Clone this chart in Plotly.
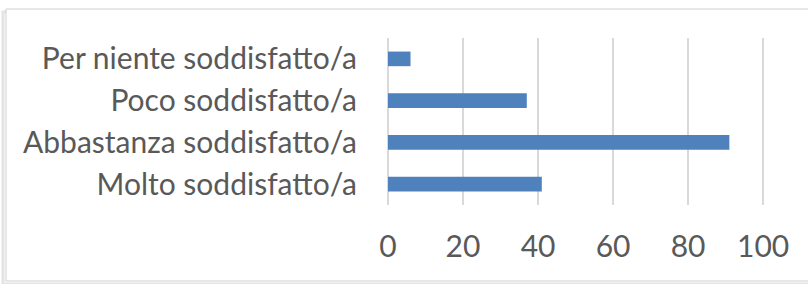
import plotly.graph_objects as go

categories = ["Molto soddisfatto/a", "Abbastanza soddisfatto/a", "Poco soddisfatto/a", "Per niente soddisfatto/a"]
values = [41, 91, 37, 6]
tick_vals = [0, 20, 40, 60, 80, 100]
tick_text = ["0", "20", "40", "60", "80", "100"]

W, H = 808, 284
L, R, T, B = 388, 43, 38, 79
pw, ph = W - L - R, H - T - B

fig = go.Figure(go.Bar(
    x=values, y=categories, orientation="h",
    marker=dict(color="#4F81BD", line=dict(width=0)),
))

def px_to_paper_x(px):
    return (px - L) / pw

def px_to_paper_y(py):
    return (H - B - py) / ph

# chart frame with slight shadow
fig.add_shape(type="rect", xref="paper", yref="paper",
              x0=px_to_paper_x(3), x1=px_to_paper_x(830),
              y0=px_to_paper_y(284), y1=px_to_paper_y(12),
              line=dict(color="#E4E4E4", width=3), fillcolor="rgba(0,0,0,0)", layer="below")
fig.add_shape(type="rect", xref="paper", yref="paper",
              x0=px_to_paper_x(6), x1=px_to_paper_x(830),
              y0=px_to_paper_y(281), y1=px_to_paper_y(9),
              line=dict(color="#D0D0D0", width=1), fillcolor="white", layer="below")

font_fam = "Lato, Noto Sans, sans-serif"
fs = 30
fig.update_layout(
    width=W, height=H,
    margin=dict(l=L, r=R, t=T, b=B),
    paper_bgcolor="white", plot_bgcolor="rgba(0,0,0,0)",
    bargap=0.65, showlegend=False,
    font=dict(family=font_fam, color="#595959", size=fs),
    xaxis=dict(range=[0, 100.5], tickvals=tick_vals, ticktext=tick_text,
               showgrid=True, gridcolor="#D9D9D9", gridwidth=1.8,
               zeroline=True, zerolinecolor="#D9D9D9", zerolinewidth=1.8,
               showline=False, ticks="", automargin=False,
               ticklabelstandoff=21, tickfont=dict(size=fs, color="#595959")),
    yaxis=dict(showgrid=False, zeroline=False, showline=False, ticks="", automargin=False,
               ticklabelstandoff=30, tickfont=dict(size=fs, color="#595959")),
)

fig.write_html("out.html", config={"displayModeBar": False},
               post_script="document.body.style.margin='0';")
